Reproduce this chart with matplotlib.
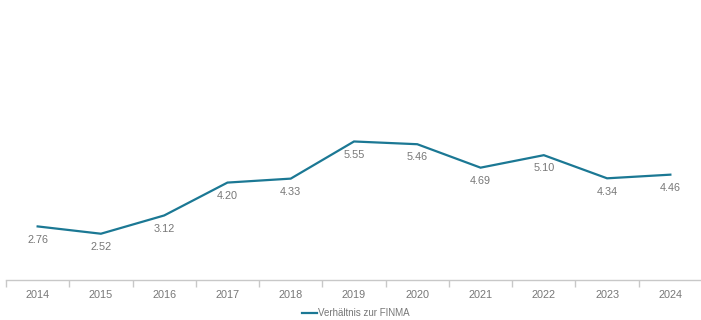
import matplotlib
matplotlib.use("Agg")
import matplotlib.pyplot as plt
from matplotlib.lines import Line2D

years = ["2014", "2015", "2016", "2017", "2018", "2019", "2020", "2021", "2022", "2023", "2024"]
values = [2.76, 2.52, 3.12, 4.20, 4.33, 5.55, 5.46, 4.69, 5.10, 4.34, 4.46]
labels = ["2.76", "2.52", "3.12", "4.20", "4.33", "5.55", "5.46", "4.69", "5.10", "4.34", "4.46"]
series_name = "Verhältnis zur FINMA"

plt.rcParams['font.family'] = ['Liberation Sans', 'DejaVu Sans']
color = "#1b7894"
gray = "#777777"

fig = plt.figure(figsize=(7.01, 3.20), dpi=100)
W, H = 701, 320
ax = fig.add_axes([6 / W, 40 / H, (702 - 6) / W, (280 - 6) / H])

x = list(range(len(years)))
ax.plot(x, values, color=color, lw=1.6, solid_joinstyle='miter')
for xi, v, lab in zip(x, values, labels):
    ax.annotate(lab, (xi, v), xytext=(0, -9.5), textcoords='offset points',
                ha='center', va='center', fontsize=7.8, color=gray)

ax.set_xlim(-0.5, len(years) - 0.5)
ax.set_ylim(1, 10)
ax.set_yticks([])
for s in ['top', 'right', 'left']:
    ax.spines[s].set_visible(False)
ax.spines['bottom'].set_color('#c8c8c8')
ax.spines['bottom'].set_linewidth(1.0)

ax.set_xticks(x)
ax.set_xticklabels(years, fontsize=7.8, color=gray)
ax.tick_params(axis='x', which='major', length=0, pad=7.5)
ax.set_xticks([i - 0.5 for i in range(len(years) + 1)], minor=True)
ax.tick_params(axis='x', which='minor', length=5, color='#c8c8c8', width=1)

handle = Line2D([0], [0], color=color, lw=1.6)
fig.legend([handle], [series_name], loc='center', bbox_to_anchor=(356 / W, 1 - 313 / H),
           frameon=False, fontsize=7.0, labelcolor=gray, handlelength=1.5,
           handletextpad=0.15)

fig.savefig("out.png", dpi=100)
